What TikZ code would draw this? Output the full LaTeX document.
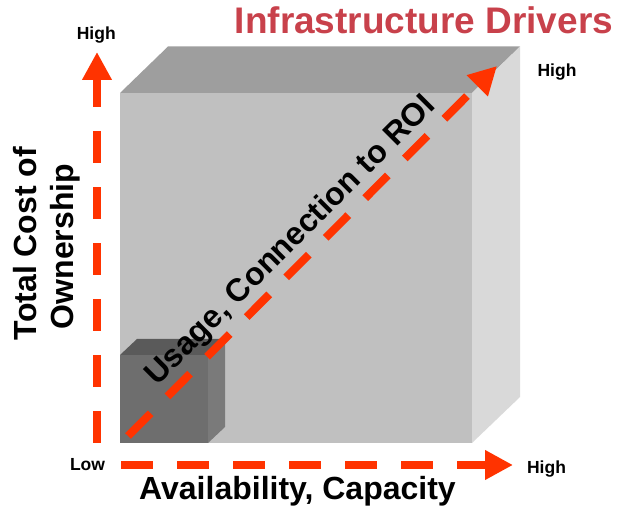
\documentclass[tikz,border=0pt]{standalone}
\usepackage{fontspec}
\setmainfont{Liberation Sans}
\usepackage{tikz}
\usepackage{xcolor}
\usetikzlibrary{arrows.meta}
\definecolor{titlered}{RGB}{200,65,75}
\definecolor{arrowred}{RGB}{255,51,0}
\definecolor{bigfront}{RGB}{192,192,192}
\definecolor{bigtop}{RGB}{158,158,158}
\definecolor{bigside}{RGB}{217,217,217}
\definecolor{smallfront}{RGB}{110,110,110}
\definecolor{smalltop}{RGB}{90,90,90}
\definecolor{smallside}{RGB}{122,122,122}

\begin{document}
\begin{tikzpicture}[x=1pt,y=1pt,
                dasharrow/.style={draw=arrowred, line width=8pt, dash pattern=on 32pt off 24pt,
                                  -{Triangle[length=28pt,width=28pt]}},
                ticklabel/.style={font=\bfseries\fontsize{17.5}{20}\selectfont, anchor=base},
                axislabel/.style={font=\bfseries\fontsize{32}{37}\selectfont, anchor=base}]
                \useasboundingbox (0,0) rectangle (624,511);
                \fill[bigfront] (120,68) rectangle (472,418);
                \fill[bigtop] (120,418) -- (168,464.5) -- (520,464.5) -- (472,418) -- cycle;
                \fill[bigside] (472,418) -- (520,464.5) -- (520,114) -- (472,68) -- cycle;
                \fill[smallfront] (120,68) rectangle (208,156);
                \fill[smalltop] (120,156) -- (137,172) -- (225,172) -- (208,156) -- cycle;
                \fill[smallside] (208,156) -- (225,172) -- (225,84) -- (208,68) -- cycle;
                \coordinate (usagestart) at (128,75);
                \coordinate (usageend) at (497,445);
                \draw[dasharrow] (usagestart) -- (usageend);
                \node[axislabel, rotate=45] (usage) at (297,264) {Usage, Connection to ROI};
                \coordinate (costlow) at (97,68);
                \coordinate (costhigh) at (97,459);
                \coordinate (availlow) at (121,46);
                \coordinate (availhigh) at (513,46);
                \draw[dasharrow] (costlow) -- (costhigh);
                \draw[dasharrow] (availlow) -- (availhigh);
                \node[ticklabel] (hicost) at (96.3,471.7) {High};
                \node[ticklabel] (hiusage) at (557,434.3) {High};
                \node[ticklabel] (hiavail) at (546.5,37.7) {High};
                \node[ticklabel] (low) at (87.5,40.3) {Low};
                \node[axislabel, rotate=90] (cost) at (36,267.5) {Total Cost of};
                \node[axislabel, rotate=90] (owner) at (73,264.5) {Ownership};
                \node[axislabel] (avail) at (297.5,11) {Availability, Capacity};
                \node[font=\bfseries\fontsize{37}{40}\selectfont, anchor=base, text=titlered] (title)
                    at (424,477.7) {Infrastructure Drivers};
            \end{tikzpicture}
\end{document}
